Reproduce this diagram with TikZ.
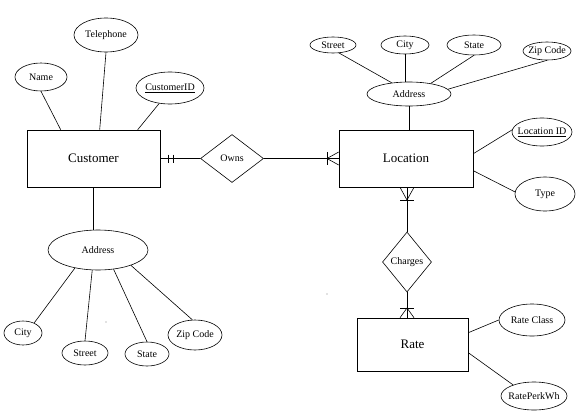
\documentclass[tikz,border=0pt]{standalone}
\usepackage{fontspec}
\setmainfont{Liberation Serif}
\usetikzlibrary{shapes.geometric}
\tikzset{
  ent/.style={draw, rectangle, inner sep=0pt, line width=0.6pt, font=\fontsize{13}{15}\selectfont},
  att/.style={draw, ellipse, inner sep=0pt, line width=0.6pt, font=\fontsize{10}{12}\selectfont},
  rel/.style={draw, diamond, inner sep=0pt, line width=0.6pt, font=\fontsize{10}{12}\selectfont},
  conn/.style={draw, line width=0.6pt},
  tickline/.style={draw, line width=0.6pt}
}
\newcommand{\zw}[1]{\makebox[0pt]{#1}}
\begin{document}
\begin{tikzpicture}[x=1pt,y=-1pt]
\useasboundingbox (0,0) rectangle (580,415);
% Customer side
\node[ent, minimum width=133pt, minimum height=57pt] (cust) at (93.5,158.5) {Customer};
\node[att, minimum width=52pt, minimum height=28pt] (name) at (41,77) {\zw{Name}};
\node[att, minimum width=64pt, minimum height=34pt] (tel) at (106,35) {\zw{Telephone}};
\node[att, minimum width=68pt, minimum height=32pt] (cid) at (170,88) {\zw{\underline{CustomerID}}};
\draw[conn] (name.south) -- ([xshift=34pt]cust.north west);
\draw[conn] (tel.south) -- ([xshift=73pt]cust.north west);
\draw[conn] (cid.-125) -- ([xshift=111pt]cust.north west);
\node[att, minimum width=100pt, minimum height=40pt] (caddr) at (98,250) {\zw{Address}};
\draw[conn] (cust.south) -- (cust.south |- caddr.north);
\node[att, minimum width=38pt, minimum height=24pt] (ccity) at (23,333) {\zw{City}};
\node[att, minimum width=46pt, minimum height=24pt] (cstreet) at (85,353) {\zw{Street}};
\node[att, minimum width=44pt, minimum height=24pt] (cstate) at (147,354) {\zw{State}};
\node[att, minimum width=54pt, minimum height=30pt] (czip) at (195,335) {\zw{Zip Code}};
\draw[conn] (ccity.42) -- (caddr.-142);
\draw[conn] (cstreet.north) -- (caddr.-106);
\draw[conn] (cstate.north) -- (caddr.-51);
\draw[conn] (czip.100) -- (caddr.-25);
% Owns
\node[rel, minimum width=63pt, minimum height=48pt] (owns) at (232,158.5) {Owns};
% Location side
\node[ent, minimum width=134pt, minimum height=57pt] (loc) at (406,158.5) {Location};
\draw[conn] (cust.east) -- (owns.west);
\draw[conn] (owns.east) -- (loc.west);
\coordinate (b1) at (168,158.5);
\coordinate (b2) at (173,158.5);
\draw[tickline] ([yshift=4pt]b1) -- ([yshift=-4pt]b1);
\draw[tickline] ([yshift=4pt]b2) -- ([yshift=-4pt]b2);
\coordinate (lf) at (327,158.5);
\draw[tickline] ([yshift=6.5pt]lf) -- ([yshift=-6.5pt]lf);
\draw[tickline] ([yshift=6.5pt]loc.west) -- (lf) -- ([yshift=-6.5pt]loc.west);
\node[att, minimum width=84pt, minimum height=24pt] (laddr) at (409,94) {\zw{Address}};
\draw[conn] (laddr.south) -- (laddr.south |- loc.north);
\node[att, minimum width=46pt, minimum height=16pt] (lstreet) at (333,45) {\zw{Street}};
\node[att, minimum width=48pt, minimum height=18pt] (lcity) at (405,45) {\zw{City}};
\node[att, minimum width=54pt, minimum height=20pt] (lstate) at (474,45) {\zw{State}};
\node[att, minimum width=48pt, minimum height=18pt] (lzip) at (547,51) {\zw{Zip Code}};
\draw[conn] (lstreet.-53) -- (laddr.147);
\draw[conn] (lcity.south) -- (lcity.south |- laddr.north);
\draw[conn] (lstate.south) -- (laddr.26);
\draw[conn] (lzip.south) -- (laddr.7);
\node[att, minimum width=60pt, minimum height=28pt] (lid) at (542,132) {\zw{\underline{Location ID}}};
\node[att, minimum width=60pt, minimum height=34pt] (ltype) at (545,194) {\zw{Type}};
\draw[conn] ([yshift=-24pt]loc.north east) -- (lid.176);
\draw[conn] ([yshift=-41pt]loc.north east) -- (ltype.176);
% Charges
\node[rel, minimum width=49pt, minimum height=60pt] (chg) at (407,262) {Charges};
\draw[conn] (chg.north |- loc.south) -- (chg.north);
\coordinate (lb) at (407,200);
\draw[tickline] ([xshift=-7pt]lb) -- ([xshift=7pt]lb);
\draw[tickline] ([xshift=-7pt]lb |- loc.south) -- (lb) -- ([xshift=7pt]lb |- loc.south);
% Rate
\node[ent, minimum width=111pt, minimum height=53pt] (rate) at (412.5,344.5) {Rate};
\draw[conn] (chg.south) -- (chg.south |- rate.north);
\coordinate (rb) at (407,308);
\draw[tickline] ([xshift=-7pt]rb) -- ([xshift=7pt]rb);
\draw[tickline] ([xshift=-7pt]rb |- rate.north) -- (rb) -- ([xshift=7pt]rb |- rate.north);
\node[att, minimum width=66pt, minimum height=32pt] (rclass) at (532,320) {\zw{Rate Class}};
\node[att, minimum width=66pt, minimum height=28pt] (rkwh) at (534,396) {\zw{RatePerkWh}};
\draw[conn] ([yshift=-15pt]rate.north east) -- (rclass.west);
\draw[conn] ([yshift=-35pt]rate.north east) -- (rkwh.152);
% stray dots
\fill[gray] (327,294) circle (0.6pt);
\fill[gray] (106,322) circle (0.6pt);
\end{tikzpicture}
\end{document}
